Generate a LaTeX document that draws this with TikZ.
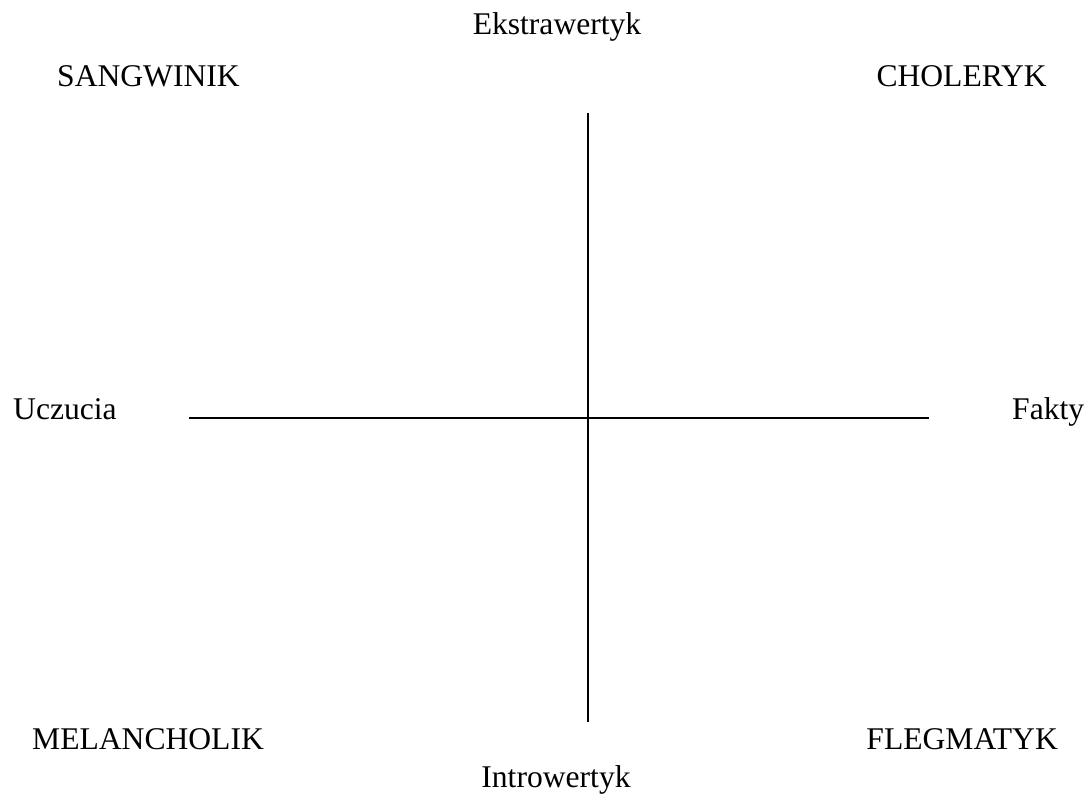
\documentclass[tikz,border=0pt]{standalone}
\usepackage{fontspec}
\setmainfont{Liberation Serif}
\begin{document}
\begin{tikzpicture}[x=1pt,y=-1pt,
  lbl/.style={inner sep=0pt,font=\fontsize{31.6}{38}\selectfont},
  axis/.style={line width=1.6pt,black}]
\useasboundingbox (0,0) rectangle (1087,805);
\node[lbl,anchor=base] (ekstra) at (557,35) {Ekstrawertyk};
\node[lbl,anchor=base west] (sang) at (57,87) {SANGWINIK};
\node[lbl,anchor=base east] (chol) at (1047,87) {CHOLERYK};
\node[lbl,anchor=base west] (uczu) at (13,419) {Uczucia};
\node[lbl,anchor=base west] (fakty) at (1012,419) {Fakty};
\node[lbl,anchor=base west] (mel) at (32,749) {MELANCHOLIK};
\node[lbl,anchor=base east] (fleg) at (1058,749) {FLEGMATYK};
\node[lbl,anchor=base] (intro) at (556,787) {Introwertyk};
\coordinate (vt) at (588,113);
\coordinate (vb) at (588,722);
\coordinate (hl) at (189,418);
\coordinate (hr) at (929,418);
\draw[axis] (vt) -- (vb);
\draw[axis] (hl) -- (hr);
\end{tikzpicture}
\end{document}
